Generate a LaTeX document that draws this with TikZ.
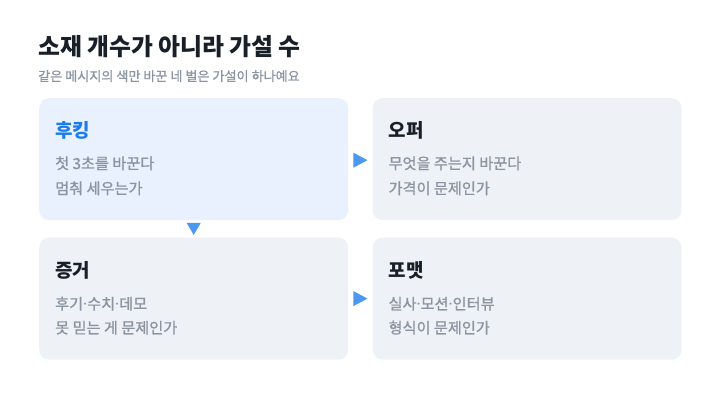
\documentclass[tikz,border=0pt]{standalone}
\usepackage{fontspec}
\setmainfont{Noto Sans CJK KR}
\newfontfamily\krmed[FakeBold=1.0]{Noto Sans CJK KR}
\newfontfamily\latinsans{Noto Sans}
\newcommand{\mdot}{{\latinsans ·}}
\usetikzlibrary{calc}
\usetikzlibrary{positioning}

\definecolor{inkdark}{HTML}{191F28}
\definecolor{inkgray}{HTML}{8B95A1}
\definecolor{hookblue}{HTML}{1B7CEE}
\definecolor{tipblue}{HTML}{4A98EF}
\definecolor{boxblue}{HTML}{E8F1FD}
\definecolor{boxgray}{HTML}{EEF1F5}

\tikzset{
  card/.style={rectangle, rounded corners=10pt, minimum width=309pt, minimum height=122pt, inner sep=0pt, fill=boxgray},
  cardhead/.style={anchor=base west, inner sep=0pt, font=\bfseries\fontsize{19}{21}\selectfont, text=inkdark},
  cardline/.style={anchor=base west, inner sep=0pt, font=\krmed\fontsize{15.2}{17}\selectfont, text=inkgray},
  tip/.style={fill=tipblue}
}

\begin{document}
\begin{tikzpicture}[x=1pt, y=-1pt]
      \useasboundingbox (0,0) rectangle (720,405);
      % heading
      \node[anchor=base west, inner sep=0pt, font=\bfseries\fontsize{23.8}{26}\selectfont, text=inkdark] (title) at (38,55.5) {소재 개수가 아니라 가설 수};
      \node[anchor=base west, inner sep=0pt, font=\krmed\fontsize{13.1}{15}\selectfont, text=inkgray] (sub) at (38,81) {같은 메시지의 색만 바꾼 네 벌은 가설이 하나예요};

      % cards
      \node[card, fill=boxblue, anchor=north west] (hook) at (39,98) {};
      \node[card, right=24pt of hook] (offer) {};
      \node[card, below=17pt of hook] (proof) {};
      \node[card, right=24pt of proof] (format) {};

      \node[cardhead, text=hookblue] (hookT) at ([shift={(16,39)}]hook.north west) {후킹};
      \node[cardline] (hookA) at ([shift={(16,71)}]hook.north west) {첫 3초를 바꾼다};
      \node[cardline] (hookB) at ([shift={(16,96)}]hook.north west) {멈춰 세우는가};

      \node[cardhead] (offerT) at ([shift={(16,39)}]offer.north west) {오퍼};
      \node[cardline] (offerA) at ([shift={(16,71)}]offer.north west) {무엇을 주는지 바꾼다};
      \node[cardline] (offerB) at ([shift={(16,96)}]offer.north west) {가격이 문제인가};

      \node[cardhead] (proofT) at ([shift={(16,40)}]proof.north west) {증거};
      \node[cardline] (proofA) at ([shift={(16,72)}]proof.north west) {후기\mdot 수치\mdot 데모};
      \node[cardline] (proofB) at ([shift={(16,96)}]proof.north west) {못 믿는 게 문제인가};

      \node[cardhead] (formatT) at ([shift={(16,40)}]format.north west) {포맷};
      \node[cardline] (formatA) at ([shift={(16,72)}]format.north west) {실사\mdot 모션\mdot 인터뷰};
      \node[cardline] (formatB) at ([shift={(16,96)}]format.north west) {형식이 문제인가};

      % markers between cards
      \coordinate (m1) at ($(hook.east)!0.5!(offer.west)$);
      \coordinate (m2) at ($(proof.east)!0.5!(format.west)$);
      \coordinate (m3) at ($(hook.south)!0.5!(proof.north)$);
      \fill[tip] ([shift={(-7,-6.5)}]m1) -- ([shift={(7,1)}]m1) -- ([shift={(-7,8.5)}]m1) -- cycle;
      \fill[tip] ([shift={(-7,-7.5)}]m2) -- ([shift={(7,0)}]m2) -- ([shift={(-7,7.5)}]m2) -- cycle;
      \fill[tip] ([shift={(-7,-6)}]m3) -- ([shift={(7,-6)}]m3) -- ([shift={(0,6)}]m3) -- cycle;
  \end{tikzpicture}
\end{document}
